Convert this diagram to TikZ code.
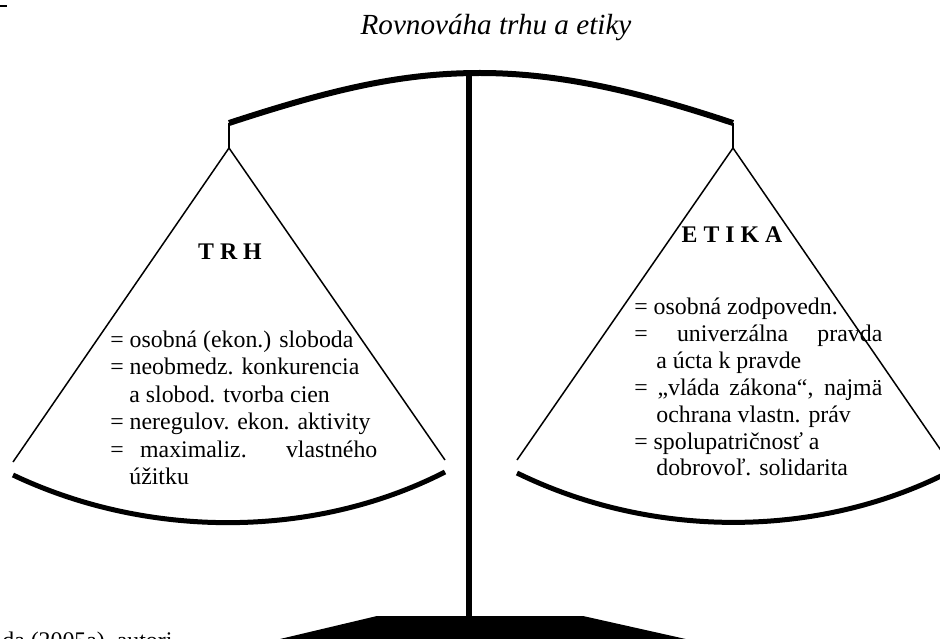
\documentclass[tikz,border=0pt]{standalone}
\usepackage{fontspec}
\setmainfont{Liberation Serif}
\tikzset{
	beam/.style={line width=3.6pt},
	cord/.style={line width=0.9pt},
	hanger/.style={line width=1.3pt},
	pan/.style={line width=3pt},
	txt/.style={anchor=base west,inner sep=0pt,font=\fontsize{14.3}{16.5}\selectfont},
	head/.style={anchor=base,inner sep=0pt,font=\fontsize{14.3}{16.5}\selectfont\bfseries}
}
\begin{document}
\begin{tikzpicture}[x=0.6pt,y=-0.6pt]
		\useasboundingbox (0,0) rectangle (940,639);
		\clip (0,0) rectangle (940,639);
		\coordinate (lhang) at (229,123);
		\coordinate (rhang) at (733,123);
		\coordinate (peak) at (480,73);
		\coordinate (ltop) at (229,148);
		\coordinate (rtop) at (733,148);
		\coordinate (ptop) at (469,76);
		\coordinate (pbot) at (469,617);
		\draw[hanger] (0,6) -- (7,6);
		\node[anchor=base,inner sep=0pt,font=\fontsize{17.5}{20}\selectfont\itshape] (title) at (496,35) {Rovnováha trhu a etiky};
		\draw[beam] (lhang) .. controls (330,90) and (400,73) .. (peak) .. controls (560,73) and (640,92) .. (rhang);
		\draw[beam] (ptop) -- (pbot);
		\fill (377,616) -- (583,616) -- (708,644) -- (259,644) -- cycle;
		\draw[hanger] (lhang) -- (ltop);
		\draw[hanger] (rhang) -- (rtop);
		\draw[cord] (13,462) -- (ltop) -- (445,460);
		\draw[cord] (517,460) -- (rtop) -- (949,462);
		\draw[pan] (13,475) .. controls (150,540) and (316,538) .. (445,472);
		\draw[pan] (517,473) .. controls (654,540) and (820,538) .. (949,472);
		\node[head] (trh) at (230,260) {T R H};
		\node[head] (etika) at (732,243) {E T I K A};
		\node[txt] (l1) at (110,347) {= osobná (ekon.) sloboda};
		\node[txt] (l2) at (110,374.5) {= neobmedz. konkurencia};
		\node[txt] (l3) at (129,402) {a slobod. tvorba cien};
		\node[txt] (l4) at (110,429.5) {= neregulov. ekon. aktivity};
		\node[txt] (l5) at (110,457) {\makebox[160.2pt][s]{= maximaliz. vlastného}};
		\node[txt] (l6) at (129,484.5) {úžitku};
		\node[txt] (r1) at (634,315) {= osobná zodpovedn.};
		\node[txt] (r2) at (634,341.8) {\makebox[148.8pt][s]{= univerzálna pravda}};
		\node[txt] (r3) at (656,368.6) {a úcta k pravde};
		\node[txt] (r4) at (634,395.4) {\makebox[148.8pt][s]{= „vláda zákona“, najmä}};
		\node[txt] (r5) at (656,422.2) {ochrana vlastn. práv};
		\node[txt] (r6) at (634,449) {= spolupatričnosť a};
		\node[txt] (r7) at (656,475.8) {dobrovoľ. solidarita};
		\node[txt] (src) at (2,648) {da (2005a), autori};
	\end{tikzpicture}
\end{document}
